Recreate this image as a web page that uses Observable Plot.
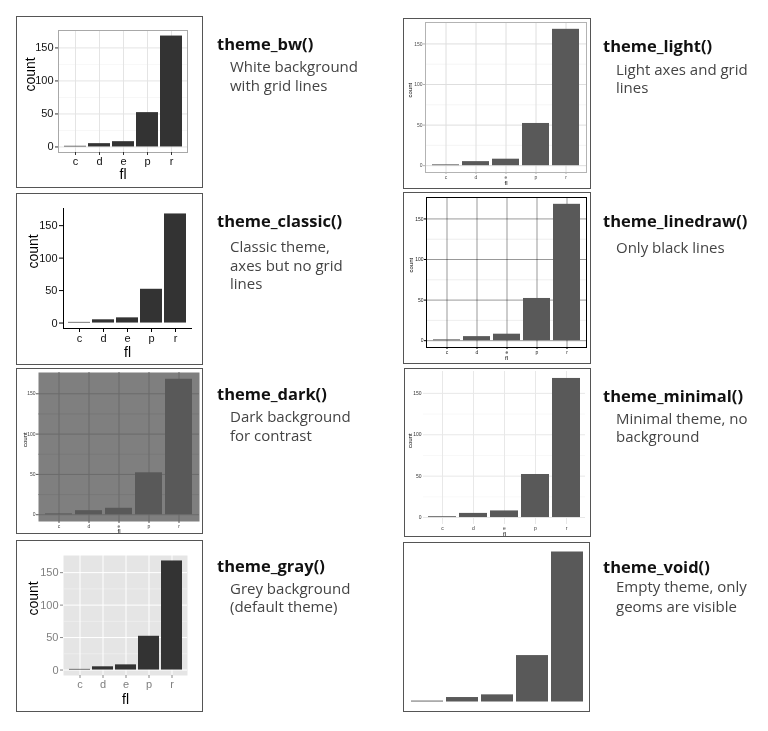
<!DOCTYPE html>
<html><head><meta charset="utf-8">
<script src="https://cdn.jsdelivr.net/npm/d3@7"></script>
<script src="https://cdn.jsdelivr.net/npm/@observablehq/plot@0.6"></script>
<style>
body{margin:0;background:#fff;}
#wrap{position:relative;width:768px;height:731px;overflow:hidden;background:#fff;}
.box{position:absolute;box-sizing:border-box;border:1.5px solid #555;pointer-events:none;}
.plot{position:absolute;overflow:hidden;will-change:transform;}
#txt{position:absolute;left:0;top:0;}
</style></head><body><div id="wrap"></div>
<script>
// ---- data ----
const categories = ["c", "d", "e", "p", "r"];
const counts = [1, 5, 8, 52, 168];
const yTicks = [0, 50, 100, 150];
const minorTicks = [25, 75, 125];
const themeNames = ["theme_bw()", "theme_classic()", "theme_dark()", "theme_gray()",
                    "theme_light()", "theme_linedraw()", "theme_minimal()", "theme_void()"];
const themeDescs = [
  ["White background", "with grid lines"],
  ["Classic theme,", "axes but no grid", "lines"],
  ["Dark background", "for contrast"],
  ["Grey background", "(default theme)"],
  ["Light axes and grid", "lines"],
  ["Only black lines"],
  ["Minimal theme, no", "background"],
  ["Empty theme, only", "geoms are visible"]
];
const rows = categories.map((c, i) => ({fl: c, n: counts[i]}));

// ---- layout / styles ----
const panels = [
  {box:[17,17,185,170], m:[13,15,35,41], bg:"#fff", border:"#a8a8a8", major:"#e4e4e4", minor:"#f2f2f2", gridX:true, bar:"#333",
   tf:11, tick:"#333", text:"#111", ts:3, tp:2, lf:14, cdx:-28, fdy:22},
  {box:[17,194,185,170], m:[14,11,36,46], bg:null, border:null, major:null, minor:null, gridX:false, bar:"#333", lines:true,
   tf:11, tick:"#000", text:"#111", ts:4, tp:2, lf:14, cdx:-30, fdy:24},
  {box:[17,369,185,164], m:[3,3,12,21], bg:"#7f7f7f", border:null, major:"#6b6b6b", minor:"#747474", gridX:true, bar:"#595959",
   tf:5, tick:"#555", text:"#444", ts:2, tp:1, lf:6, cdx:-13, fdy:10},
  {box:[17,541,185,170], m:[14,15,36,46], bg:"#e5e5e5", border:null, major:"#fff", minor:"#f2f2f2", gridX:true, bar:"#333",
   tf:11, tick:"#888", text:"#7f7f7f", ts:3, tp:2, lf:14, cdx:-30, fdy:24},
  {box:[404,19,186,169], m:[3,4,16,21], bg:"#fff", border:"#b3b3b3", major:"#dedede", minor:"#eeeeee", gridX:true, bar:"#595959",
   tf:5, tick:"#b3b3b3", text:"#4d4d4d", ts:2, tp:1, lf:6, cdx:-15, fdy:11},
  {box:[404,193,186,170], m:[4,4,16,22], bg:"#fff", border:"#000", major:"rgba(0,0,0,0.4)", minor:"rgba(0,0,0,0.12)", gridX:true, bar:"#595959",
   tf:5, tick:"#000", text:"#222", ts:2, tp:1, lf:6, cdx:-15, fdy:11},
  {box:[405,369,185,167], m:[2,5,12,18], bg:"#fff", border:null, major:"#e8e8e8", minor:"#f4f4f4", gridX:true, bar:"#595959",
   tf:5, tick:null, text:"#333", ts:0, tp:2, lf:6, cdx:-13, fdy:10},
  {box:[404,543,185,168], m:[1,1,2,2], bg:null, border:null, major:null, minor:null, gridX:false, bar:"#595959", void:true}
];

const titlePos = [
  {x:217, y:[50,72,91]}, {x:217, y:[227,252,271,289]}, {x:217, y:[400,422,441]}, {x:217, y:[572,594,612]},
  {x:603, y:[52,75,93]}, {x:603, y:[227,253]}, {x:603, y:[402,424,442]}, {x:603, y:[573,592,612]}
];

const wrap = document.getElementById("wrap");

panels.forEach((p) => {
  const [bx, by, bw, bh] = p.box;
  const [mt, mr, mb, ml] = p.m;
  const marks = [];
  if (p.bg) marks.push(Plot.frame({fill: p.bg, stroke: "none"}));
  if (p.minor) marks.push(Plot.gridY(minorTicks, {stroke: p.minor, strokeOpacity: 1, strokeWidth: 0.6}));
  if (p.major) marks.push(Plot.gridY(yTicks, {stroke: p.major, strokeOpacity: 1, strokeWidth: 1}));
  if (p.gridX && p.major) marks.push(Plot.gridX(categories, {stroke: p.major, strokeOpacity: 1, strokeWidth: 1}));
  marks.push(Plot.barY(rows, {x: "fl", y: "n", fill: p.bar}));
  if (p.border) marks.push(Plot.frame({stroke: p.border, strokeWidth: 1}));
  if (p.lines) {
    marks.push(Plot.frame({anchor: "left", stroke: "#000", strokeWidth: 1}));
    marks.push(Plot.frame({anchor: "bottom", stroke: "#000", strokeWidth: 1}));
  }
  if (!p.void) {
    marks.push(Plot.axisY({ticks: yTicks, tickSize: p.ts, tickPadding: p.tp, fontSize: p.tf,
      stroke: p.tick || "none", label: null}));
    marks.push(Plot.axisX({tickSize: p.ts, tickPadding: p.tp, fontSize: p.tf,
      stroke: p.tick || "none", label: null}));
    marks.push(Plot.text(["count"], {text: d => d, frameAnchor: "left", dx: p.cdx, rotate: -90,
      fontSize: p.lf, fill: "black"}));
    marks.push(Plot.text(["fl"], {text: d => d, frameAnchor: "bottom", dy: p.fdy, lineAnchor: "middle",
      fontSize: p.lf, fill: "black"}));
  }
  const chart = Plot.plot({
    width: bw, height: bh,
    marginTop: mt, marginRight: mr, marginBottom: mb, marginLeft: ml,
    style: {fontFamily: "'Liberation Sans', Arial, sans-serif", background: "#fff",
            overflow: "visible", color: p.text || "#000"},
    x: {type: "band", domain: categories, paddingInner: 0.1, paddingOuter: 0.15, axis: p.void ? null : undefined},
    y: {domain: [-8.4, 176.4], axis: p.void ? null : undefined},
    marks
  });
  const holder = document.createElement("div");
  holder.className = "plot";
  holder.style.left = bx + "px"; holder.style.top = by + "px";
  holder.style.width = bw + "px"; holder.style.height = bh + "px";
  holder.appendChild(chart);
  wrap.appendChild(holder);
  const box = document.createElement("div");
  box.className = "box";
  box.style.left = (bx - 1) + "px"; box.style.top = (by - 1) + "px";
  box.style.width = (bw + 2) + "px"; box.style.height = (bh + 2) + "px";
  wrap.appendChild(box);
});

// ---- titles & descriptions ----
const ns = "http://www.w3.org/2000/svg";
const svg = document.createElementNS(ns, "svg");
svg.setAttribute("id", "txt");
svg.setAttribute("width", 768); svg.setAttribute("height", 731);
themeNames.forEach((name, i) => {
  const pos = titlePos[i];
  const t = document.createElementNS(ns, "text");
  t.setAttribute("x", pos.x); t.setAttribute("y", pos.y[0]);
  t.setAttribute("font-family", "'Open Sans', sans-serif");
  t.setAttribute("font-weight", "bold"); t.setAttribute("font-size", "16.5");
  t.setAttribute("fill", "#111");
  t.textContent = name;
  svg.appendChild(t);
  themeDescs[i].forEach((line, j) => {
    const d = document.createElementNS(ns, "text");
    d.setAttribute("x", pos.x + 13); d.setAttribute("y", pos.y[j + 1]);
    d.setAttribute("font-family", "'Open Sans', sans-serif");
    d.setAttribute("font-size", "15"); d.setAttribute("fill", "#444");
    d.textContent = line;
    svg.appendChild(d);
  });
});
wrap.appendChild(svg);
</script></body></html>
